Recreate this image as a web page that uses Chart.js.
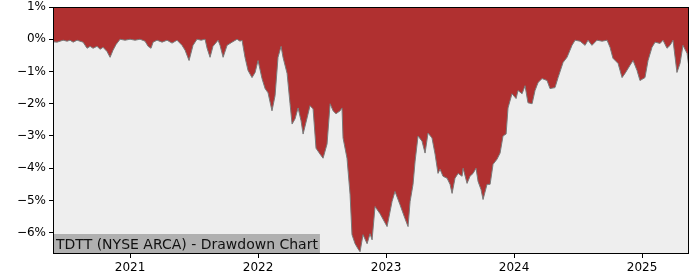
<!DOCTYPE html>
<html>
<head>
<meta charset="utf-8">
<script src="https://cdn.jsdelivr.net/npm/chart.js@4.4.1/dist/chart.umd.min.js"></script>
<style>
  html, body { margin: 0; padding: 0; background: #fff; }
  #wrap { width: 700px; height: 280px; }
</style>
</head>
<body>
<div id="wrap"><canvas id="myChart"></canvas></div>
<script>
// dates as decimal years, drawdown in percent
const years = [
    2020.398, 2020.430, 2020.453, 2020.477, 2020.508, 2020.531, 2020.555, 2020.586, 2020.609, 2020.633,
    2020.664, 2020.688, 2020.711, 2020.742, 2020.766, 2020.789, 2020.820, 2020.844, 2020.867, 2020.891,
    2020.922, 2020.961, 2021.000, 2021.039, 2021.078, 2021.117, 2021.141, 2021.164, 2021.180, 2021.211,
    2021.250, 2021.289, 2021.328, 2021.367, 2021.406, 2021.430, 2021.461, 2021.492, 2021.523, 2021.555,
    2021.586, 2021.602, 2021.625, 2021.648, 2021.688, 2021.703, 2021.727, 2021.758, 2021.797, 2021.836,
    2021.859, 2021.875, 2021.898, 2021.922, 2021.953, 2021.977, 2022.000, 2022.031, 2022.055, 2022.078,
    2022.109, 2022.133, 2022.156, 2022.180, 2022.195, 2022.227, 2022.250, 2022.266, 2022.289, 2022.313,
    2022.336, 2022.352, 2022.383, 2022.406, 2022.430, 2022.453, 2022.484, 2022.508, 2022.539, 2022.563,
    2022.586, 2022.609, 2022.641, 2022.656, 2022.664, 2022.695, 2022.719, 2022.734, 2022.758, 2022.781,
    2022.797, 2022.820, 2022.852, 2022.875, 2022.891, 2022.914, 2022.953, 2023.008, 2023.047, 2023.070,
    2023.109, 2023.148, 2023.172, 2023.188, 2023.211, 2023.227, 2023.250, 2023.281, 2023.305, 2023.328,
    2023.359, 2023.383, 2023.406, 2023.422, 2023.445, 2023.477, 2023.500, 2023.516, 2023.539, 2023.563,
    2023.594, 2023.602, 2023.633, 2023.656, 2023.680, 2023.703, 2023.719, 2023.742, 2023.758, 2023.789,
    2023.813, 2023.836, 2023.867, 2023.891, 2023.914, 2023.938, 2023.953, 2023.984, 2024.016, 2024.031,
    2024.063, 2024.086, 2024.109, 2024.141, 2024.164, 2024.188, 2024.219, 2024.258, 2024.281, 2024.320,
    2024.344, 2024.383, 2024.414, 2024.453, 2024.477, 2024.516, 2024.555, 2024.578, 2024.609, 2024.648,
    2024.688, 2024.727, 2024.750, 2024.773, 2024.813, 2024.844, 2024.867, 2024.906, 2024.930, 2024.961,
    2024.984, 2025.023, 2025.047, 2025.078, 2025.102, 2025.141, 2025.164, 2025.195, 2025.219, 2025.242,
    2025.273, 2025.297, 2025.320, 2025.352, 2025.367
];
const drawdown = [
    -0.08, -0.09, -0.06, -0.03, -0.06, -0.03, -0.09, -0.03, -0.06, -0.09,
    -0.28, -0.22, -0.28, -0.22, -0.31, -0.25, -0.38, -0.56, -0.34, -0.16,
    0, -0.03, 0, -0.03, 0, -0.06, -0.22, -0.28, -0.09, -0.03,
    -0.09, -0.03, -0.12, -0.03, -0.19, -0.34, -0.66, -0.19, 0, -0.03,
    0, -0.28, -0.56, -0.22, -0.03, -0.19, -0.56, -0.19, -0.09, 0,
    -0.06, -0.03, -0.56, -0.97, -1.19, -1.03, -0.66, -1.22, -1.53, -1.66,
    -2.22, -1.75, -0.56, -0.22, -0.56, -1.06, -2.00, -2.63, -2.47, -2.13,
    -2.53, -2.94, -2.44, -2.06, -2.16, -3.38, -3.56, -3.69, -3.25, -2.00,
    -2.22, -2.31, -2.22, -2.13, -3.06, -3.69, -4.81, -6.06, -6.34, -6.50,
    -6.59, -6.06, -6.34, -6.03, -6.22, -5.19, -5.41, -5.81, -5.03, -4.72,
    -5.13, -5.56, -5.81, -5.03, -4.50, -3.78, -3.00, -3.16, -3.53, -2.91,
    -3.06, -3.56, -4.16, -4.03, -4.25, -4.31, -4.50, -4.78, -4.31, -4.16,
    -4.25, -4.00, -4.47, -4.25, -4.16, -4.00, -4.41, -4.66, -4.97, -4.50,
    -4.50, -3.88, -3.72, -3.53, -3.00, -2.94, -2.13, -1.69, -1.84, -1.59,
    -1.69, -1.44, -1.97, -2.00, -1.59, -1.34, -1.22, -1.28, -1.53, -1.50,
    -1.19, -0.72, -0.56, -0.19, -0.03, -0.06, -0.19, -0.03, -0.19, -0.03,
    -0.06, -0.03, -0.25, -0.59, -0.75, -1.19, -1.06, -0.81, -0.66, -0.97,
    -1.28, -1.19, -0.66, -0.25, -0.09, -0.13, -0.03, -0.28, -0.19, -0.03,
    -1.03, -0.75, -0.19, -0.44, -0.88
];
const yearTicks = [2021, 2022, 2023, 2024, 2025];
const pctTicks = [1, 0, -1, -2, -3, -4, -5, -6];
const chartLabel = 'TDTT (NYSE ARCA) - Drawdown Chart';

const points = years.map((x, i) => ({ x: x, y: drawdown[i] }));

// grey plot background, black frame and the label box
const framePlugin = {
    id: 'framePlugin',
    beforeDatasetsDraw(chart) {
        const a = chart.chartArea, c = chart.ctx;
        c.save();
        c.fillStyle = '#eeeeee';
        c.fillRect(a.left, a.top, a.right - a.left, a.bottom - a.top);
        c.restore();
    },
    afterDatasetsDraw(chart) {
        const a = chart.chartArea, c = chart.ctx;
        c.save();
        c.font = '14px "DejaVu Sans"';
        const w = c.measureText(chartLabel).width;
        c.fillStyle = '#b0b0b0';
        c.fillRect(a.left, a.bottom - 20, w + 5, 20);
        c.fillStyle = '#111';
        c.textBaseline = 'alphabetic';
        c.fillText(chartLabel, a.left + 3, a.bottom - 5);
        c.strokeStyle = '#000';
        c.lineWidth = 1;
        c.strokeRect(a.left + 0.5, a.top + 0.5, a.right - a.left - 1, a.bottom - a.top - 1);
        c.restore();
    }
};

const ctx = document.getElementById('myChart');
const myChart = new Chart(ctx, {
    type: 'line',
    data: {
        datasets: [{
            data: points,
            borderColor: '#7a7a7a',
            borderWidth: 1,
            backgroundColor: '#b03030',
            fill: 'end',
            pointRadius: 0,
            tension: 0
        }]
    },
    options: {
        responsive: true,
        maintainAspectRatio: false,
        animation: false,
        layout: { padding: { top: 7, right: 11, left: 0, bottom: 0 } },
        plugins: {
            legend: { display: false },
            tooltip: { enabled: false }
        },
        scales: {
            x: {
                type: 'linear',
                min: 2020.398,
                max: 2025.367,
                afterBuildTicks: function (scale) {
                    scale.ticks = yearTicks.map(v => ({ value: v }));
                },
                afterFit: function (scale) { scale.height = 26; },
                border: { display: false },
                grid: { drawOnChartArea: false, tickLength: 4, tickColor: '#000' },
                ticks: {
                    color: '#000',
                    padding: 3,
                    maxRotation: 0,
                    font: { family: 'DejaVu Sans', size: 12 },
                    callback: v => String(v)
                }
            },
            y: {
                min: -6.66,
                max: 1,
                afterBuildTicks: function (scale) {
                    scale.ticks = pctTicks.map(v => ({ value: v }));
                },
                afterFit: function (scale) {
                    scale.width = 53;
                    scale.paddingTop = 0;
                    scale.paddingBottom = 0;
                },
                border: { display: false },
                grid: { drawOnChartArea: false, tickLength: 4, tickColor: '#000' },
                ticks: {
                    color: '#000',
                    padding: 3,
                    font: { family: 'DejaVu Sans', size: 12, lineHeight: 1 },
                    callback: v => (v < 0 ? '\u2212' + Math.abs(v) : v) + '%'
                }
            }
        }
    },
    plugins: [framePlugin]
});
</script>
</body>
</html>
